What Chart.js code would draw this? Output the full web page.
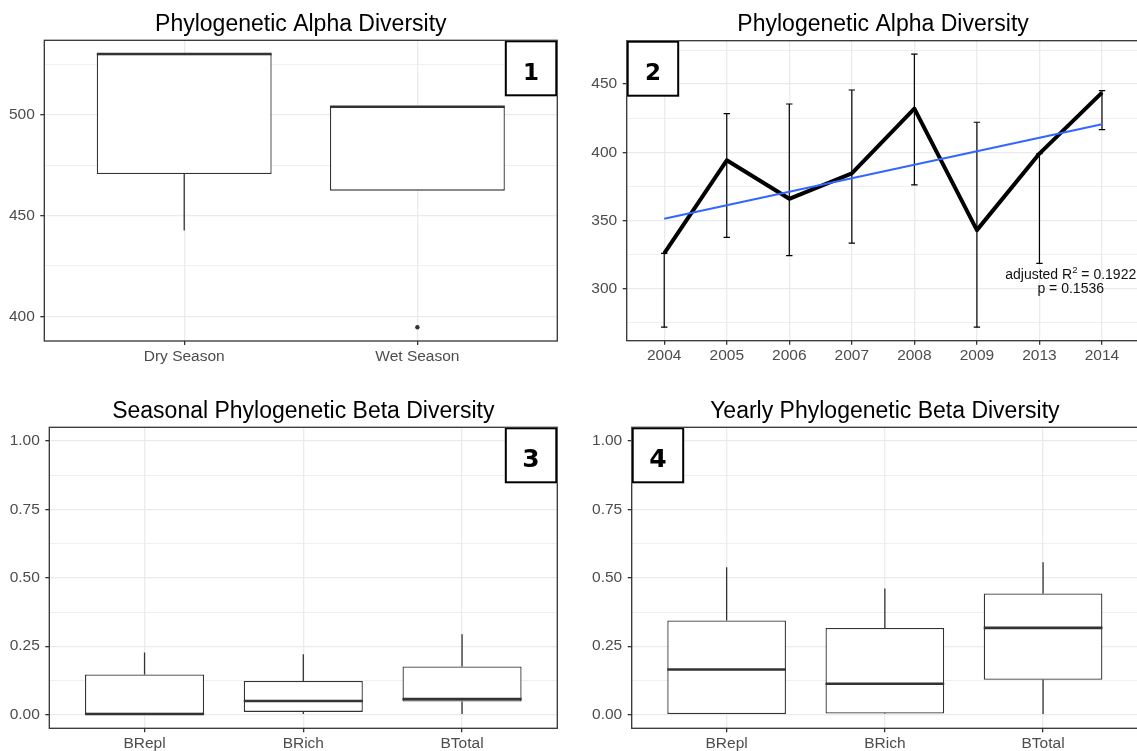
<!DOCTYPE html>
<html>
<head>
<meta charset="utf-8">
<title>Phylogenetic diversity</title>
<script src="https://cdn.jsdelivr.net/npm/chart.js@4.4.1/dist/chart.umd.min.js"></script>
<style>
  html, body { margin: 0; padding: 0; background: #ffffff; width: 1137px; height: 751px; overflow: hidden; }
  canvas { position: absolute; }
</style>
</head>
<body>
<canvas id="alphaSeason" width="570" height="390" style="left:0;top:0"></canvas>
<canvas id="alphaYear" width="575" height="390" style="left:570px;top:0"></canvas>
<canvas id="betaSeason" width="570" height="361" style="left:0;top:390px"></canvas>
<canvas id="betaYear" width="575" height="361" style="left:570px;top:390px"></canvas>
<script>
// ---- Panel 1: alpha diversity by season (box plot summaries) ----
const seasonLabels = ['Dry Season', 'Wet Season'];
const seasonMin = [442.6, 462.3];
const seasonQ1 = [470.5, 462.3];
const seasonMedian = [530.0, 503.9];
const seasonQ3 = [530.0, 503.9];
const seasonMax = [530.0, 503.9];
const seasonOutliers = [[], [394.6]];
const seasonTicks = [400, 450, 500];
const seasonTickLabels = ['400', '450', '500'];
const seasonMinorTicks = [425, 475, 525];

// ---- Panel 2: alpha diversity by year (mean with error bars, linear fit) ----
const yearLabels = ['2004', '2005', '2006', '2007', '2008', '2009', '2013', '2014'];
const yearMean = [325.7, 394.1, 365.8, 384.4, 432.0, 342.8, 399.0, 443.8];
const yearLow = [271.5, 337.5, 324.0, 333.3, 376.0, 271.5, 318.4, 416.6];
const yearHigh = [325.7, 428.4, 435.4, 445.7, 472.1, 422.0, 399.0, 445.3];
const yearFitEnds = [351.1, 420.5];
const yearTicks = [300, 350, 400, 450];
const yearTickLabels = ['300', '350', '400', '450'];
const yearMinorTicks = [275, 325, 375, 425, 475];
const fitR2 = '0.1922';
const fitP = '0.1536';

// ---- Panels 3 and 4: beta diversity components ----
const betaLabels = ['BRepl', 'BRich', 'BTotal'];
const seasBetaMin = [0.000, 0.002, 0.002];
const seasBetaQ1 = [0.000, 0.010, 0.048];
const seasBetaMedian = [0.002, 0.050, 0.057];
const seasBetaQ3 = [0.147, 0.123, 0.176];
const seasBetaMax = [0.227, 0.221, 0.294];

const yearBetaMin = [0.000, 0.002, 0.002];
const yearBetaQ1 = [0.000, 0.004, 0.127];
const yearBetaMedian = [0.165, 0.113, 0.317];
const yearBetaQ3 = [0.344, 0.317, 0.443];
const yearBetaMax = [0.539, 0.461, 0.557];

const betaTicks = [0, 0.25, 0.5, 0.75, 1];
const betaTickLabels = ['0.00', '0.25', '0.50', '0.75', '1.00'];
const betaMinorTicks = [0.125, 0.375, 0.625, 0.875];

// ---- shared styling ----
const FONT = '"Liberation Sans", Arial, Helvetica, sans-serif';
const INK = '#333333';
const GRID = '#EBEBEB';
const TICK_TEXT = '#4D4D4D';

function categoryAxis(labels, height) {
  return {
    type: 'linear', position: 'bottom',
    min: 0.4, max: labels.length + 0.6, bounds: 'data', offset: false,
    afterBuildTicks: s => { s.ticks = labels.map((_, i) => ({ value: i + 1 })); },
    afterFit: s => { s.height = height; },
    ticks: {
      autoSkip: false, maxRotation: 0, minRotation: 0, padding: 2,
      color: TICK_TEXT, font: { family: FONT, size: 15.5 },
      callback: v => labels[Math.round(v) - 1]
    },
    grid: { color: GRID, lineWidth: 1.3, tickColor: INK, tickWidth: 1.3, tickLength: 4, offset: false },
    border: { display: false }
  };
}

function valueAxis(min, max, majors, majorLabels, minors, width) {
  const all = majors.concat(minors).sort((a, b) => a - b);
  const isMinor = c => c.tick && c.tick.minor;
  return {
    type: 'linear', position: 'left', min, max, bounds: 'data',
    afterBuildTicks: s => { s.ticks = all.map(v => ({ value: v, minor: majors.indexOf(v) < 0 })); },
    afterFit: s => { s.width = width; },
    ticks: {
      autoSkip: false, padding: 5.5, color: TICK_TEXT, font: { family: FONT, size: 15.5 },
      callback: v => { const i = majors.indexOf(v); return i < 0 ? '' : majorLabels[i]; }
    },
    grid: {
      color: GRID,
      lineWidth: c => isMinor(c) ? 0.8 : 1.3,
      tickColor: c => isMinor(c) ? 'rgba(0,0,0,0)' : INK,
      tickWidth: 1.3, tickLength: 4
    },
    border: { display: false }
  };
}

// half the box width in pixels, so the median segment spans the box
function halfBox(chart) {
  const x = chart.scales.x;
  return Math.abs(x.getPixelForValue(2) - x.getPixelForValue(1)) * 0.375;
}

function boxplotDatasets(mins, q1s, meds, q3s, maxs, outliers) {
  const whisker = {
    type: 'bar', backgroundColor: INK, barThickness: 1.3, grouped: false, inflateAmount: 0, order: 4
  };
  const outlierPoints = [];
  (outliers || []).forEach((list, i) => list.forEach(v => outlierPoints.push({ x: i + 1, y: v })));
  return [
    Object.assign({ data: q3s.map((q, i) => ({ x: i + 1, y: [q, maxs[i]] })) }, whisker),
    Object.assign({ data: mins.map((m, i) => ({ x: i + 1, y: [m, q1s[i]] })) }, whisker),
    {
      type: 'bar', data: q1s.map((q, i) => ({ x: i + 1, y: [q, q3s[i]] })),
      backgroundColor: '#ffffff', borderColor: INK, borderWidth: 1.3, borderSkipped: false,
      barPercentage: 0.75, categoryPercentage: 1, grouped: false, inflateAmount: 0, order: 3
    },
    {
      type: 'scatter', data: meds.map((m, i) => ({ x: i + 1, y: m })),
      pointStyle: 'line', pointRadius: ctx => halfBox(ctx.chart),
      pointBorderColor: INK, pointBorderWidth: 2.6, order: 2
    },
    {
      type: 'scatter', data: outlierPoints,
      pointStyle: 'circle', pointRadius: 2.2, pointBackgroundColor: INK, pointBorderWidth: 0, order: 1
    }
  ];
}

// panel frame, title, numbered tag and optional fit note
const panelDecor = {
  id: 'panelDecor',
  afterDraw(chart, args, opts) {
    const { ctx, chartArea: a } = chart;
    ctx.save();
    ctx.strokeStyle = INK;
    ctx.lineWidth = 1.3;
    ctx.strokeRect(a.left, a.top, a.right - a.left, a.bottom - a.top);

    ctx.fillStyle = '#000000';
    ctx.font = '23px ' + FONT;
    ctx.textAlign = 'center';
    ctx.textBaseline = 'alphabetic';
    ctx.fillText(opts.title, (a.left + a.right) / 2, a.top - 9.5);

    if (opts.note) {
      const px = chart.scales.x.getPixelForValue(opts.note.x);
      const py = chart.scales.y.getPixelForValue(opts.note.y);
      const big = '14px ' + FONT, small = '9.5px ' + FONT;
      const p1 = 'adjusted R', p2 = '2', p3 = ' = ' + fitR2;
      ctx.font = big; const w1 = ctx.measureText(p1).width, w3 = ctx.measureText(p3).width;
      ctx.font = small; const w2 = ctx.measureText(p2).width;
      let x = px - (w1 + w2 + w3) / 2;
      ctx.fillStyle = '#111111';
      ctx.textAlign = 'left';
      ctx.font = big; ctx.fillText(p1, x, py - 2); x += w1;
      ctx.font = small; ctx.fillText(p2, x, py - 7.5); x += w2;
      ctx.font = big; ctx.fillText(p3, x, py - 2);
      ctx.textAlign = 'center';
      ctx.fillText('p = ' + fitP, px, py + 12);
    }

    const w = 52.5, h = 56;
    const x0 = opts.tagSide === 'right' ? a.right - w : a.left;
    const y0 = a.top;
    ctx.fillStyle = '#ffffff';
    ctx.fillRect(x0, y0, w, h);
    ctx.strokeStyle = '#000000';
    ctx.lineWidth = 2;
    ctx.strokeRect(x0 + 1, y0 + 1, w - 2, h - 2);
    ctx.fillStyle = '#000000';
    ctx.font = 'bold ' + opts.tagSize + 'px "DejaVu Sans", sans-serif';
    ctx.textAlign = 'center';
    ctx.fillText(opts.tag, x0 + w / 2, y0 + 39.3);
    ctx.restore();
  }
};

function baseOptions(padding, decor, scales) {
  return {
    responsive: false,
    animation: false,
    events: [],
    layout: { autoPadding: false, padding },
    plugins: { legend: { display: false }, tooltip: { enabled: false }, panelDecor: decor },
    scales
  };
}

// Panel 1
new Chart(document.getElementById('alphaSeason'), {
  type: 'scatter',
  data: { datasets: boxplotDatasets(seasonMin, seasonQ1, seasonMedian, seasonQ3, seasonMax, seasonOutliers) },
  options: baseOptions(
    { left: 0, top: 40.3, right: 12.7, bottom: 0 },
    { title: 'Phylogenetic Alpha Diversity', tag: '1', tagSide: 'right', tagSize: 23 },
    {
      x: categoryAxis(seasonLabels, 49),
      y: valueAxis(387.8, 536.8, seasonTicks, seasonTickLabels, seasonMinorTicks, 44.3)
    }),
  plugins: [panelDecor]
});

// Panel 2
new Chart(document.getElementById('alphaYear'), {
  type: 'scatter',
  data: {
    datasets: [
      {
        type: 'line', data: [{ x: 1, y: yearFitEnds[0] }, { x: yearLabels.length, y: yearFitEnds[1] }],
        borderColor: '#3366FF', borderWidth: 2, pointRadius: 0, tension: 0, order: 0
      },
      {
        type: 'line', data: yearMean.map((v, i) => ({ x: i + 1, y: v })),
        borderColor: '#000000', borderWidth: 4, pointRadius: 0, tension: 0,
        borderJoinStyle: 'round', order: 1
      },
      {
        type: 'scatter',
        data: yearLow.map((v, i) => ({ x: i + 1, y: v })).concat(yearHigh.map((v, i) => ({ x: i + 1, y: v }))),
        pointStyle: 'line', pointRadius: 3.2, pointBorderColor: '#000000', pointBorderWidth: 1.2, order: 2
      },
      {
        type: 'bar', data: yearLow.map((v, i) => ({ x: i + 1, y: [v, yearHigh[i]] })),
        backgroundColor: '#000000', barThickness: 1.2, grouped: false, inflateAmount: 0, order: 3
      }
    ]
  },
  options: baseOptions(
    { left: 0, top: 40.7, right: 5.5, bottom: 0 },
    { title: 'Phylogenetic Alpha Diversity', tag: '2', tagSide: 'left', tagSize: 23, note: { x: 7.5, y: 305.8 } },
    {
      x: categoryAxis(yearLabels, 49.3),
      y: valueAxis(261.6, 481.9, yearTicks, yearTickLabels, yearMinorTicks, 56.7)
    }),
  plugins: [panelDecor]
});

// Panel 3
new Chart(document.getElementById('betaSeason'), {
  type: 'scatter',
  data: { datasets: boxplotDatasets(seasBetaMin, seasBetaQ1, seasBetaMedian, seasBetaQ3, seasBetaMax, []) },
  options: baseOptions(
    { left: 0, top: 37.3, right: 12.7, bottom: 0 },
    { title: 'Seasonal Phylogenetic Beta Diversity', tag: '3', tagSide: 'right', tagSize: 25 },
    {
      x: categoryAxis(betaLabels, 22.7),
      y: valueAxis(-0.05, 1.05, betaTicks, betaTickLabels, betaMinorTicks, 49.3)
    }),
  plugins: [panelDecor]
});

// Panel 4
new Chart(document.getElementById('betaYear'), {
  type: 'scatter',
  data: { datasets: boxplotDatasets(yearBetaMin, yearBetaQ1, yearBetaMedian, yearBetaQ3, yearBetaMax, []) },
  options: baseOptions(
    { left: 0, top: 37.3, right: 7, bottom: 0 },
    { title: 'Yearly Phylogenetic Beta Diversity', tag: '4', tagSide: 'left', tagSize: 25 },
    {
      x: categoryAxis(betaLabels, 22.7),
      y: valueAxis(-0.05, 1.05, betaTicks, betaTickLabels, betaMinorTicks, 61.7)
    }),
  plugins: [panelDecor]
});
</script>
</body>
</html>
